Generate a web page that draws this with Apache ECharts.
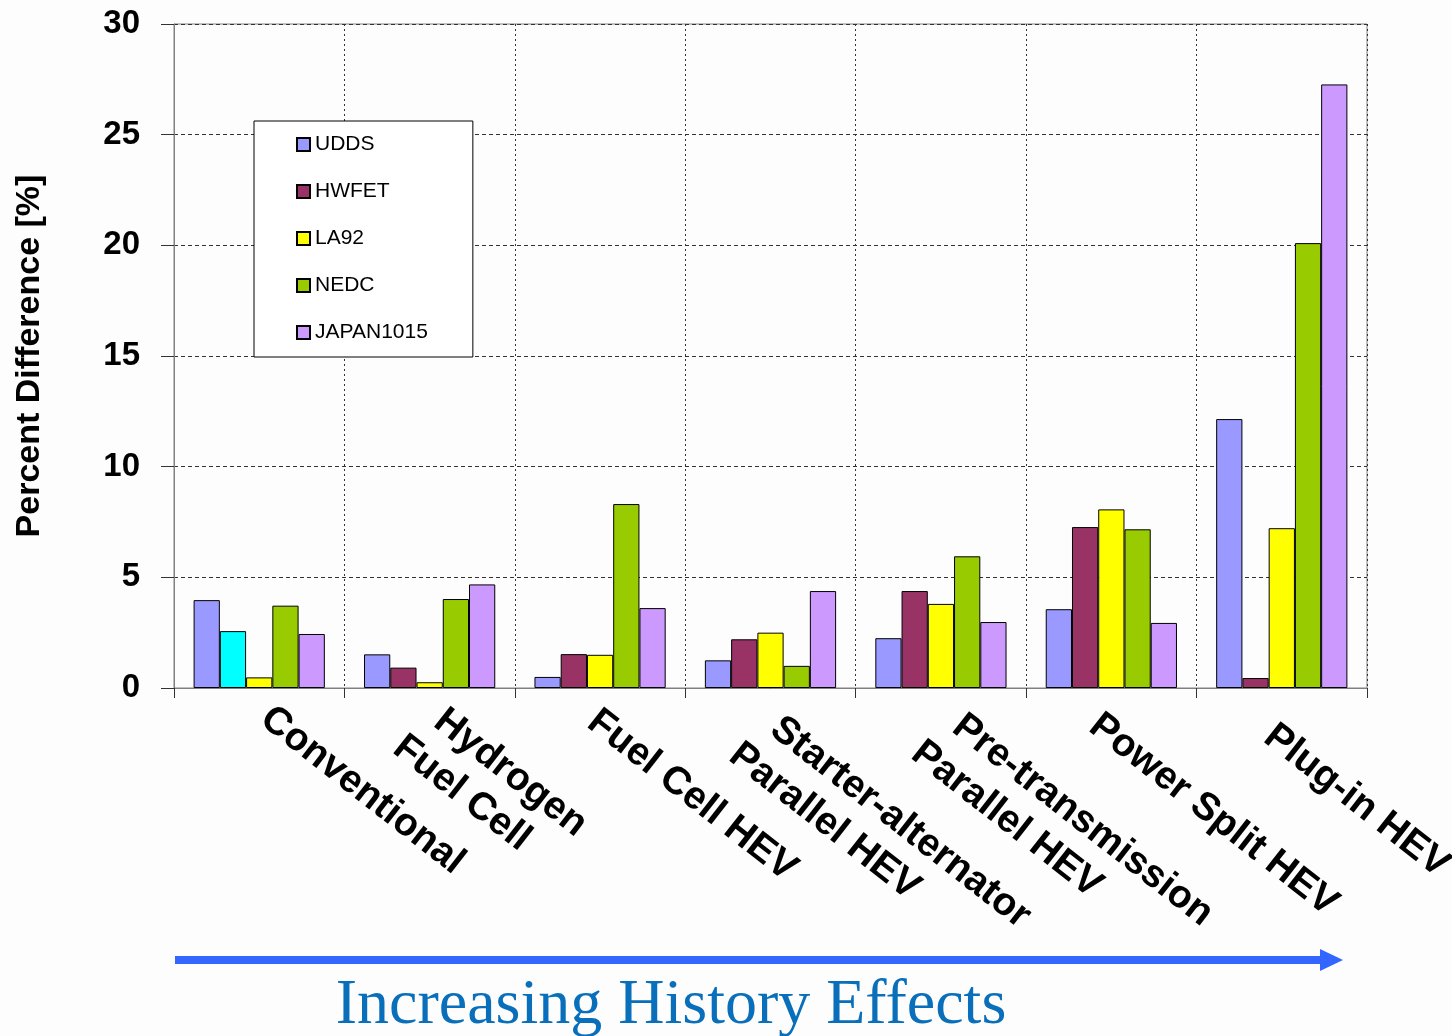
<!DOCTYPE html>
<html>
<head>
<meta charset="utf-8">
<script src="https://cdn.jsdelivr.net/npm/echarts@6/dist/echarts.min.js"></script>
<style>
html,body{margin:0;padding:0;background:#fdfdfd;}
#chart{width:1452px;height:1036px;}
</style>
</head>
<body>
<div id="chart"></div>
<script>
var categories = ['Conventional', 'Hydrogen\nFuel Cell', 'Fuel Cell HEV', 'Starter-alternator\nParallel HEV', 'Pre-transmission\nParallel HEV', 'Power Split HEV', 'Plug-in HEV'];
var seriesNames = ['UDDS', 'HWFET', 'LA92', 'NEDC', 'JAPAN1015'];
var udds  = [3.97, 1.52, 0.5, 1.25, 2.25, 3.56, 12.15];
var hwfet = [2.57, 0.92, 1.53, 2.2, 4.38, 7.27, 0.45];
var la92  = [0.48, 0.26, 1.5, 2.5, 3.8, 8.07, 7.22];
var nedc  = [3.72, 4.02, 8.31, 1.0, 5.95, 7.17, 20.1];
var japan = [2.44, 4.68, 3.61, 4.38, 2.98, 2.94, 27.27];
var yTicks = [0, 5, 10, 15, 20, 25, 30];

var colors = ['#9999ff', '#993366', '#ffff00', '#99cc00', '#cc99ff'];
var specialColor = '#00ffff'; // Conventional HWFET bar drawn in cyan

// per-label fine placement of the rotated category labels: [perpendicular, along]
var labelNudge = [[2, 27], [2, 15], [13, 18], [11, 16], [2, 24], [22, 13], [28, 23]];

var allData = [udds, hwfet, la92, nedc, japan];

var series = allData.map(function (arr, i) {
  return {
    name: seriesNames[i],
    type: 'bar',
    barGap: '0%',
    barCategoryGap: '23%',
    itemStyle: { color: colors[i], borderColor: '#000', borderWidth: 1 },
    data: arr.map(function (v, j) {
      if (i === 1 && j === 0) {
        return { value: v, itemStyle: { color: specialColor } };
      }
      return v;
    })
  };
});

var xData = categories.map(function (c, j) {
  return { value: c, textStyle: {
    align: 'left', verticalAlign: 'top',
    padding: [labelNudge[j][0], 0, 0, labelNudge[j][1]] } };
});

var labelFont = { fontFamily: 'Liberation Sans, Arial, sans-serif', fontWeight: 'bold', fontSize: 39, lineHeight: 46, color: '#000' };

var chart = echarts.init(document.getElementById('chart'), null, { renderer: 'canvas' });
chart.setOption({
  backgroundColor: '#fdfdfd',
  animation: false,
  grid: {
    left: 174, top: 24, right: 85, bottom: 348,
    containLabel: false,
    outerBoundsMode: 'none',
    show: true, borderColor: '#808080', borderWidth: 1, backgroundColor: 'transparent'
  },
  legend: {
    orient: 'vertical',
    left: 254, top: 121,
    padding: [13, 45, 14, 42],
    itemWidth: 13, itemHeight: 13, itemGap: 26,
    backgroundColor: '#ffffff',
    borderColor: '#000', borderWidth: 1,
    icon: 'rect',
    data: seriesNames,
    textStyle: { fontFamily: 'Liberation Sans, Arial, sans-serif', fontSize: 21, color: '#000' }
  },
  xAxis: {
    type: 'category',
    data: xData,
    axisLine: { show: true, lineStyle: { color: '#808080', width: 1 } },
    axisTick: { show: true, length: 10, lineStyle: { color: '#333' } },
    splitLine: { show: true, lineStyle: { color: '#333', type: [2, 3], width: 1 } },
    axisLabel: {
      interval: 0,
      rotate: -38,
      align: 'left',
      verticalAlign: 'top',
      margin: -10,
      fontFamily: labelFont.fontFamily,
      fontWeight: labelFont.fontWeight,
      fontSize: labelFont.fontSize,
      lineHeight: labelFont.lineHeight,
      color: labelFont.color,
      formatter: function (v) {
        var parts = v.split('\n');
        if (parts.length === 1) return v;
        return '{a|' + parts[0] + '}\n{b|' + parts[1] + '}';
      },
      rich: {
        a: Object.assign({ padding: [0, 0, 0, 16] }, labelFont),
        b: Object.assign({}, labelFont)
      }
    }
  },
  yAxis: {
    type: 'value',
    min: 0, max: 30, interval: 5,
    name: 'Percent Difference [%]',
    nameLocation: 'middle',
    nameGap: 127,
    nameRotate: 90,
    nameTextStyle: { fontFamily: 'Liberation Sans, Arial, sans-serif', fontWeight: 'bold', fontSize: 34, color: '#000' },
    axisLine: { show: true, lineStyle: { color: '#808080', width: 1 } },
    axisTick: { show: true, length: 13, lineStyle: { color: '#333' } },
    splitLine: { show: true, lineStyle: { color: '#333', type: [4, 3], width: 1 } },
    axisLabel: {
      margin: 34,
      fontFamily: 'Liberation Sans, Arial, sans-serif',
      fontWeight: 'bold',
      fontSize: 33,
      color: '#000',
      formatter: function (v) { return yTicks.indexOf(v) >= 0 ? String(v) : ''; }
    }
  },
  graphic: [
    { type: 'rect', shape: { x: 175, y: 956, width: 1147, height: 8 }, style: { fill: '#3366ff' } },
    { type: 'polygon', shape: { points: [[1320, 949], [1343, 960], [1320, 971]] }, style: { fill: '#3366ff' } },
    { type: 'text', x: 671, y: 1006, style: {
        text: 'Increasing History Effects', fill: '#0a6fba',
        font: '64px "Liberation Serif", "Times New Roman", serif',
        align: 'center', verticalAlign: 'middle' } }
  ],
  series: series
});
</script>
</body>
</html>
